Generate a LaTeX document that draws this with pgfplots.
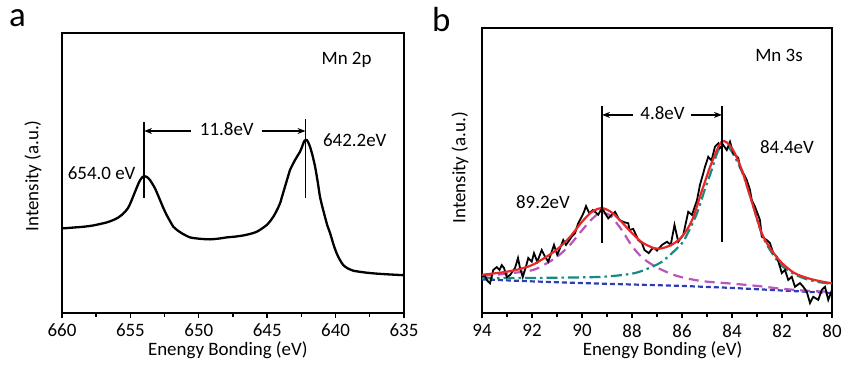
\documentclass[border=0pt]{standalone}
\usepackage{fontspec}
\setmainfont{Carlito}
\usepackage{pgfplots}
\pgfplotsset{compat=1.18}
\usetikzlibrary{arrows.meta}
\definecolor{fitred}{RGB}{232,40,40}
\definecolor{pkone}{RGB}{185,85,190}
\definecolor{pktwo}{RGB}{20,140,130}
\definecolor{bgline}{RGB}{45,60,185}
\newcommand{\fs}{\fontsize{19}{23}\selectfont}
\pgfplotsset{
  xps/.style={
    scale only axis,
    x dir=reverse,
    ymin=0, ymax=100,
    ytick=\empty,
    xtick pos=bottom,
    tick align=outside,
    minor x tick num=1,
    line width=1.6bp,
    major tick length=5bp,
    minor tick length=3.5bp,
    every tick/.style={black, line width=1.4bp},
    tick label style={font=\fs},
    xticklabel style={yshift=-2bp},
    /pgf/number format/assume math mode=true,
    /pgf/number format/set thousands separator={},
    clip=false,
  }
}
\begin{document}
\begin{tikzpicture}
\path[use as bounding box] (0,0) rectangle (842bp,367bp);
\node[anchor=base west, inner sep=0, font=\fontsize{35}{40}\selectfont] at (9bp,340bp) {a};
\node[anchor=base west, inner sep=0, font=\fontsize{35}{40}\selectfont] at (432bp,335bp) {b};
% ---------------- panel a ----------------
\begin{axis}[xps, at={(62bp,54bp)}, anchor=south west,
  width=342bp, height=280bp,
  xmin=635, xmax=660, xtick={635,640,...,660}]
\addplot[black, line width=2.3bp, smooth, tension=0.4] coordinates {
(660,30.2) (659.2,30.5) (658.44,30.8) (657.8,31.2) (657.2,31.8) (656.7,32.4) (656.25,33.2)
(655.85,34.2) (655.5,35.6) (655.2,37.3) (655.0,39.2) (654.66,43.3) (654.35,46.9) (654.15,48.4)
(654.0,48.9) (653.8,48.6) (653.57,47.5) (653.2,44.5) (652.84,40.4) (652.6,37.6) (652.35,35)
(652.1,32.8) (651.86,30.8) (651.55,29.5) (651.25,28.5) (650.64,27) (649.9,26.5) (649.18,26.3)
(648.5,26.6) (647.96,27) (647.3,27.3) (646.75,27.7) (646.2,28.3) (645.77,29) (645.4,30.1)
(645.04,31.4) (644.8,32.7) (644.55,34.4) (644.3,36.6) (644.06,39.2) (643.9,41.8) (643.7,45.1)
(643.5,48.4) (643.33,51.1) (643.15,52.9) (642.97,54.6) (642.8,56) (642.6,57.6) (642.45,59.4)
(642.31,61.2) (642.2,61.8) (642.11,61.8) (642.0,60.9) (641.87,59.4) (641.7,56.5) (641.5,52.3)
(641.3,46.6) (641.14,41.5) (640.95,37.6) (640.78,34.4) (640.6,31.2) (640.4,28.5) (640.15,24.4)
(639.92,21.3) (639.7,19.1) (639.44,17.1) (639.1,15.9) (638.7,15.1) (638.2,14.7) (637.73,14.4)
(637.1,14.1) (636.5,13.9) (635.8,13.7) (635,13.5)
};
\addplot[black, line width=1.2bp] coordinates {(654.0,41.1) (654.0,68.2)};
\addplot[black, line width=1.2bp] coordinates {(642.2,41.1) (642.2,69.3)};
\draw[line width=1.2bp, -{Stealth[length=8bp,width=6bp]}] (axis cs:650.57,65) -- (axis cs:654.0,65);
\draw[line width=1.2bp, -{Stealth[length=8bp,width=6bp]}] (axis cs:645.4,65) -- (axis cs:642.2,65);
\node[font=\fs] at (axis cs:647.95,65.6) {11.8eV};
\node[font=\fs] at (axis cs:657.1,50) {654.0 eV};
\node[font=\fs] at (axis cs:638.6,61.6) {642.2eV};
\node[font=\fs] at (axis cs:639.2,90.4) {Mn 2p};
\node[font=\fs, rotate=90] at (axis description cs:-0.085,0.49) {Intensity (a.u.)};
\node[font=\fs] at (axis description cs:0.485,0) [yshift=-37bp] {Enengy Bonding (eV)};
\end{axis}
% ---------------- panel b ----------------
\begin{axis}[xps, at={(482bp,54bp)}, anchor=south west,
  width=350bp, height=285bp,
  xmin=80, xmax=94, xtick={80,82,...,94}]
% background
\addplot[bgline, line width=2.2bp, dash pattern=on 5bp off 3bp] coordinates {
(94,11.8) (92,11.1) (90,10.5) (88,10) (86,9.5) (84,8.8) (82,7.9) (80,7.0)
};
% peak 1 (89.2 eV)
\addplot[pkone, line width=2.2bp, dash pattern=on 10bp off 6bp, smooth] coordinates {
(94,13) (93,13.8) (92,15) (91.5,17) (91,19.7) (90.5,23.7) (90,29) (89.6,33) (89.3,35)
(89.0,34.8) (88.8,33.6) (88.4,29) (88,23.5) (87.6,19.5) (87.2,17) (86.8,15.1) (86.2,13)
(85.5,11.6) (85,11) (84,10.3) (83,9.5) (82,8.5) (81,7.8) (80,7.4)
};
% peak 2 (84.4 eV)
\addplot[pktwo, line width=2.2bp, dash pattern=on 11bp off 4bp on 2.5bp off 4bp, smooth] coordinates {
(94,12.2) (92,12.3) (90,12.5) (89,12.8) (88,13.8) (87.5,15.1) (87,17) (86.8,18) (86.4,21)
(86,24.5) (85.8,27.5) (85.4,35) (85.1,43) (84.8,50.5) (84.6,56) (84.4,59) (84.2,58.5)
(84,56.5) (83.6,49.5) (83.2,39) (82.8,27.5) (82.4,21) (82,16.5) (81.5,13.6) (81,11.8)
(80.5,10.8) (80,10.2)
};
% raw data
\addplot[black, line width=1.8bp] coordinates {
(94.0,12.7) (93.9,13.3) (93.8,11.5) (93.68,10.4) (93.55,15.1) (93.41,16.1) (93.3,15.1)
(93.21,16.8) (93.12,15.8) (93.01,12.6) (92.88,13.3) (92.68,15.8) (92.56,19.3) (92.48,15.8)
(92.37,12.6) (92.25,16) (92.15,19.3) (92.01,18) (91.92,21) (91.79,18) (91.61,22.1)
(91.48,19.8) (91.35,18) (91.21,21.5) (91.12,23.9) (90.99,20.4) (90.88,22.7) (90.75,25.6)
(90.64,23.9) (90.55,25) (90.41,26.8) (90.28,28) (90.15,31.5) (90.01,33.8) (89.92,35.5)
(89.84,37.5) (89.71,35) (89.57,36.1) (89.48,35.5) (89.35,34.5) (89.2,36.8) (88.95,33.2)
(88.8,34.5) (88.68,35.5) (88.5,32.6) (88.3,31.8) (88.15,31.5) (88.1,29.1) (87.95,29.5)
(87.75,25.6) (87.6,24.5) (87.5,22.1) (87.33,21) (87.2,22.5) (87.1,22.8) (87.0,21.9)
(86.8,23.9) (86.6,25) (86.45,23.9) (86.3,30.9) (86.15,25) (85.95,27.4) (85.75,35.5)
(85.6,34.4) (85.4,39.6) (85.28,45) (85.15,49) (85.08,51.3) (84.95,54.8) (84.82,53.5)
(84.68,58.4) (84.55,59.5) (84.48,57.9) (84.35,58.9) (84.21,57.2) (84.08,60.1) (83.95,56.1)
(83.75,54.4) (83.68,51.3) (83.55,49.1) (83.41,46.7) (83.28,43.2) (83.21,39.6) (83.08,37.3)
(82.88,32.6) (82.81,26.8) (82.61,25.6) (82.48,24.5) (82.35,21) (82.21,19.8) (82.08,16.2)
(82.01,14) (81.88,15.1) (81.75,11.6) (81.61,12.7) (81.48,9.2) (81.28,10.5) (81.15,9.2)
(81.01,7.5) (80.88,3.5) (80.75,5.7) (80.55,4.6) (80.41,8.1) (80.28,9.2) (80.15,4.6) (80.0,8.1)
};
% envelope fit
\addplot[fitred, line width=2.2bp, smooth] coordinates {
(94,13.4) (93.5,13.9) (93,14.5) (92.5,15.4) (92,16.8) (91.5,19.3) (91,22.3) (90.5,26.5)
(90,32) (89.6,35.5) (89.2,36.8) (88.8,35.2) (88.4,31.8) (88,28) (87.6,24.8) (87.2,23)
(87,22.6) (86.8,22.7) (86.4,24) (86,26.8) (85.6,32.5) (85.2,43) (84.8,53) (84.4,60.2)
(84.0,57.8) (83.6,50) (83.2,38.8) (82.8,27.8) (82.4,21.8) (82,17.5) (81.5,14) (81,12.3)
(80.5,11.2) (80,10.4)
};
\addplot[black, line width=1.2bp] coordinates {(89.2,24.6) (89.2,72.6)};
\addplot[black, line width=1.2bp] coordinates {(84.4,24.9) (84.4,72.6)};
\draw[line width=1.2bp, -{Stealth[length=8bp,width=6bp]}] (axis cs:87.96,69.5) -- (axis cs:89.2,69.5);
\draw[line width=1.2bp, -{Stealth[length=8bp,width=6bp]}] (axis cs:85.64,69.5) -- (axis cs:84.4,69.5);
\node[font=\fs] at (axis cs:86.78,70.1) {4.8eV};
\node[font=\fs] at (axis cs:91.56,39) {89.2eV};
\node[font=\fs] at (axis cs:81.8,58.2) {84.4eV};
\node[font=\fs] at (axis cs:82.12,90.5) {Mn 3s};
\node[font=\fs, rotate=90] at (axis description cs:-0.063,0.51) {Intensity (a.u.)};
\node[font=\fs] at (axis description cs:0.516,0) [yshift=-37bp] {Enengy Bonding (eV)};
\end{axis}
\end{tikzpicture}
\end{document}
